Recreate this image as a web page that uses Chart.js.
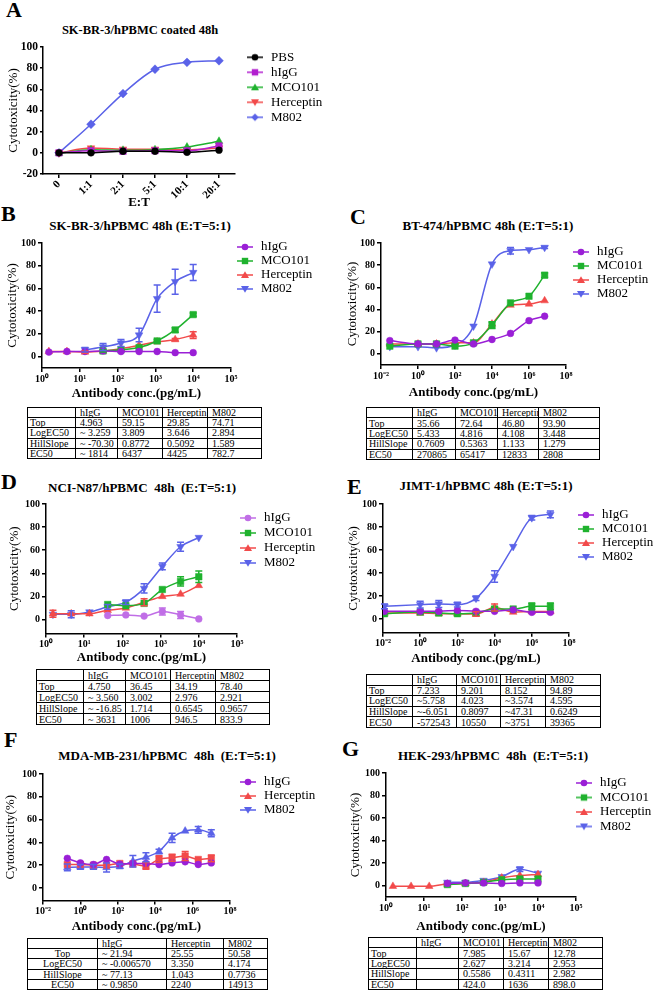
<!DOCTYPE html>
<html><head><meta charset="utf-8">
<script src="https://cdn.jsdelivr.net/npm/chart.js@4.4.1/dist/chart.umd.min.js"></script>
<style>
html,body{margin:0;padding:0;background:#fff;}
#wrap{position:relative;width:653px;height:992px;overflow:hidden;font-family:'Liberation Serif','Times New Roman',serif;color:#000;}
canvas{position:absolute;}
.letter{position:absolute;font-weight:bold;font-size:22px;line-height:22px;}
.ttl{position:absolute;font-weight:bold;font-size:13px;line-height:13px;white-space:pre;transform:translate(-50%,-50%);}
table.t{position:absolute;border-collapse:collapse;table-layout:fixed;font-size:10px;border:1.5px solid #000;}
table.t td{border:1px solid #000;padding:0 0 0 4px;line-height:9px;white-space:nowrap;overflow:hidden;}
</style></head><body><div id="wrap"></div>
<script>
// ---------------- DATA ----------------
// Panel A
const A_cats = ['0','1:1','2:1','5:1','10:1','20:1'];
const A_PBS = [0, 0, 1.5, 1.5, 0.5, 2.5];
const A_hIgG = [0, 2, 1.5, 2, 2, 6.5];
const A_MCO101 = [-0.5, 3, 2.5, 3, 5.5, 11];
const A_Herceptin = [0, 4.5, 3.5, 3.5, 3, 4.5];
const A_M802 = [0, 27, 56, 79, 85.5, 87];
const A_yTicks = [-20, 0, 20, 40, 60, 80, 100];
// common y ticks
const yTicks = [0, 20, 40, 60, 80, 100];
const xTicks_5dec = [1, 10, 100, 1000, 10000, 100000];
const xTicks_10dec = [0.01, 1, 100, 10000, 1000000, 100000000];

// Panel B
const concB = [1.52, 4.57, 13.7, 41.2, 123, 370, 1111, 3333, 10000];
const B_hIgG = [4, 4.5, 4.5, 5, 4.5, 4.5, 4.5, 3.5, 3.5];
const B_MCO101 = [null, null, null, 5, 6, 8, 13.8, 23.5, 37];
const B_MCO101_err = [0, 0, 0, 1, 0, 0, 1, 2, 1.5];
const B_Herceptin = [4.5, 4.5, 4, 5, 7, 10, 13, 15, 19];
const B_Herceptin_err = [0, 0, 1, 0, 0, 0, 0, 1, 3];
const B_M802 = [null, null, 6, 8.5, 12, 19, 51, 66, 74];
const B_M802_err = [0, 0, 2, 3, 3, 6, 12, 11, 7];

// Panel C
const concC = [0.03, 1, 10, 100, 1000, 10000, 100000, 1000000, 7000000];
const C_hIgG = [12, 9, 9, 12.5, 9, 13, 18.5, 30, 34];
const C_MC0101 = [7, 9, 9, 7, 10, 26, 46, 52, 71];
const C_MC0101_err = [0, 0, 0, 0, 0, 3, 0, 0, 2];
const C_Herceptin = [9, 9, 9, 10, 10, 27, 44, 45, 48];
const C_M802 = [6.5, 6.5, 5.5, 8, 25, 81, 93, 94, 96];
const C_M802_err = [0, 0, 0, 0, 0, 0, 3, 0, 1];

// Panel D
const concD = [1.52, 4.57, 13.7, 41.2, 123, 370, 1111, 3333, 10000];
const D_hIgG = [null, null, null, 3.5, 4, 3, 7, 4, 0.5];
const D_hIgG_err = [0, 0, 0, 0, 0, 0, 3, 3, 0];
const D_MCO101 = [null, null, null, 13, 12, 14, 26, 33, 37];
const D_MCO101_err = [0, 0, 0, 0, 0, 0, 0, 4, 5];
const D_Herceptin = [5, 5, 5, 8, 10, 15, 20, 22, 29.5];
const D_Herceptin_err = [3, 0, 0, 0, 0, 3, 0, 0, 0];
const D_M802 = [4.5, 4.5, 6.5, 11, 15, 27, 46, 63, 71];
const D_M802_err = [0, 3, 0, 2, 2, 4, 3, 4, 0];

// Panel E
const concE = [0.012, 1, 10, 100, 1000, 10000, 100000, 1000000, 10000000];
const E_hIgG = [6.7, 6.7, 6.7, 7.5, 6.7, 6.7, 8, 5.8, 5.8];
const E_MC0101 = [4.6, 6, 5.2, 4.6, 5.2, 8.7, 8.7, 11, 11];
const E_MC0101_err = [0, 0, 0, 0, 0, 2, 0, 3, 3];
const E_Herceptin = [5.2, 5.2, 4.6, 4.6, 4.3, 10, 6, 6.5, 6.5];
const E_Herceptin_err = [0, 0, 0, 0, 2, 3, 0, 0, 0];
const E_M802 = [11, 12.5, 13, 12.5, 18, 37, 63, 88, 91];
const E_M802_err = [2, 3, 3, 2, 2, 5, 0, 2, 3];

// Panel F
const concF = [0.2, 1, 5, 25, 128, 640, 3200, 16000, 80000, 400000, 2000000, 10000000];
const F_hIgG = [26, 22, 20.6, 25, 21, 21.5, 21.5, 20.6, 22, 23, 20.6, 22];
const F_Herceptin = [20.6, 20.6, 20, 20, 21.5, 21, 19.4, 25.3, 26.5, 28, 25, 26];
const F_Herceptin_err = [0, 0, 0, 0, 0, 0, 3, 3, 3, 4, 0, 3];
const F_M802 = [18, 18.5, 18.5, 18, 19, 23.5, 27, 32, 44, 50, 51, 48];
const F_M802_err = [3, 2, 2, 4, 2, 5, 4, 2, 4, 0, 3, 3];

// Panel G
const concG = [1.52, 4.57, 13.7, 41.2, 123, 370, 1111, 3333, 10000];
const G_hIgG = [null, null, null, 2, 2.5, 2.5, 2, 2.5, 2.5];
const G_MCO101 = [null, null, null, 1, 2, 3, 5.3, 6, 6];
const G_Herceptin = [-0.5, -0.5, -0.5, 1.5, 2, 3, 7, 9, 10];
const G_M802 = [null, null, null, 3, 3, 4.7, 8, 14.7, 11];
const G_M802_err = [0, 0, 0, 0, 0, 0, 0, 2, 0];

// Tables
const tblRowLabels = ['Top', 'LogEC50', 'HillSlope', 'EC50'];
const tblB_cols = ['hIgG', 'MCO101', 'Herceptin', 'M802'];
const tblB = [['4.963','59.15','29.85','74.71'],['~ 3.259','3.809','3.646','2.894'],['~ -70.30','0.8772','0.5092','1.589'],['~ 1814','6437','4425','782.7']];
const tblC_cols = ['hIgG', 'MCO101', 'Herceptin', 'M802'];
const tblC = [['35.66','72.64','46.80','93.90'],['5.433','4.816','4.108','3.448'],['0.7609','0.5363','1.133','1.279'],['270865','65417','12833','2808']];
const tblD_cols = ['hIgG', 'MCO101', 'Herceptin', 'M802'];
const tblD = [['4.750','36.45','34.19','78.40'],['~ 3.560','3.002','2.976','2.921'],['~ -16.85','1.714','0.6545','0.9657'],['~ 3631','1006','946.5','833.9']];
const tblE_cols = ['hIgG', 'MCO101', 'Herceptin', 'M802'];
const tblE = [['7.233','9.201','8.152','94.89'],['~5.758','4.023','~3.574','4.595'],['~-6.051','0.8097','~47.31','0.6249'],['-572543','10550','~3751','39365']];
const tblF_cols = ['hIgG', 'Herceptin', 'M802'];
const tblF = [['~ 21.94','25.55','50.58'],['~ -0.006570','3.350','4.174'],['~ 77.13','1.043','0.7736'],['~ 0.9850','2240','14913']];
const tblG_cols = ['hIgG', 'MCO101', 'Herceptin', 'M802'];
const tblG = [['','7.985','15.67','12.78'],['','2.627','3.214','2.953'],['','0.5586','0.4311','2.982'],['','424.0','1636','898.0']];

// ---------------- RENDER ----------------
const SERIF = 'Liberation Serif';
const C_P = '#9a1fd6', C_PL = '#c06ee6', C_G = '#1fb22e', C_R = '#f24a4a', C_B = '#5a62e8', C_BK = '#000000', C_M = '#b21fcf';
const wrap = document.getElementById('wrap');

function addDiv(cls, text, x, y) {
  const d = document.createElement('div'); d.className = cls; d.textContent = text;
  d.style.left = x + 'px'; d.style.top = y + 'px'; wrap.appendChild(d); return d;
}

function makeIcon(color, style, down) {
  const c = document.createElement('canvas'); c.width = 16; c.height = 10;
  const g = c.getContext('2d'); g.strokeStyle = color; g.fillStyle = color; g.lineWidth = 1.5;
  g.beginPath(); g.moveTo(0, 5); g.lineTo(16, 5); g.stroke();
  const x = 8, y = 5;
  g.beginPath();
  if (style === 'circle') { g.arc(x, y, 3.3, 0, Math.PI * 2); }
  else if (style === 'rect') { g.rect(x - 3.2, y - 3.2, 6.4, 6.4); }
  else if (style === 'rectRot') { g.moveTo(x, y - 3.8); g.lineTo(x + 3.8, y); g.lineTo(x, y + 3.8); g.lineTo(x - 3.8, y); g.closePath(); }
  else if (style === 'triangle') {
    if (down) { g.moveTo(x - 4, y - 3); g.lineTo(x + 4, y - 3); g.lineTo(x, y + 3.8); }
    else { g.moveTo(x - 4, y + 3); g.lineTo(x + 4, y + 3); g.lineTo(x, y - 3.8); }
    g.closePath();
  }
  g.fill();
  return c;
}

function pts(conc, vals, errs) {
  return conc.map((c, i) => vals[i] == null ? null : { x: c, y: vals[i], e: errs ? errs[i] : 0 }).filter(p => p);
}

function series(label, data, color, style, down, legendStyle, legendDown) {
  const r = style === 'circle' ? 3.4 : (style === 'rect' ? 4.6 : 4.4);
  return {
    label, data, borderColor: color, backgroundColor: color, borderWidth: 1.5,
    pointStyle: style, pointRotation: down ? 180 : 0, pointRadius: r, pointHoverRadius: r,
    pointBorderWidth: 0.5, cubicInterpolationMode: 'monotone', fill: false,
    legendIcon: makeIcon(color, legendStyle || style, legendStyle ? legendDown : down)
  };
}

const errorBars = {
  id: 'errorBars',
  afterDatasetsDraw(chart) {
    const ctx = chart.ctx, ys = chart.scales.y;
    chart.data.datasets.forEach((ds, i) => {
      const meta = chart.getDatasetMeta(i);
      ctx.save(); ctx.strokeStyle = ds.borderColor; ctx.lineWidth = 1.5;
      ds.data.forEach((p, j) => {
        if (!p || typeof p !== 'object' || !p.e) return;
        const x = meta.data[j].x;
        const y1 = ys.getPixelForValue(p.y + p.e), y2 = ys.getPixelForValue(p.y - p.e);
        ctx.beginPath();
        ctx.moveTo(x, y1); ctx.lineTo(x, y2);
        ctx.moveTo(x - 3.5, y1); ctx.lineTo(x + 3.5, y1);
        ctx.moveTo(x - 3.5, y2); ctx.lineTo(x + 3.5, y2);
        ctx.stroke();
      });
      ctx.restore();
    });
  }
};

const legendPlace = {
  id: 'legendPlace',
  afterLayout(chart, args, opts) {
    const lg = chart.legend; if (!lg || opts.x == null) return;
    const p = chart.options.plugins.legend.labels.padding;
    lg.left = opts.x - p; lg.top = opts.y - 6.5 - p;
    lg.right = lg.left + lg.width; lg.bottom = lg.top + lg.height;
  }
};

const supMap = {'0':'⁰','1':'¹','2':'²','3':'³','4':'⁴','5':'⁵','6':'⁶','7':'⁷','8':'⁸','9':'⁹','-':'⁻'};
function powLabel(v) { const e = Math.round(Math.log10(v)); return '10' + String(e).split('').map(c => supMap[c]).join(''); }

function axisCommon() {
  return {
    border: { display: true, color: '#000', width: 1.5 },
    grid: { drawOnChartArea: false, drawTicks: true, tickLength: 4, color: '#000', lineWidth: 1.5 }
  };
}

function panel(o) {
  const cv = document.createElement('canvas');
  cv.width = o.box.w; cv.height = o.box.h;
  cv.style.left = o.box.x + 'px'; cv.style.top = o.box.y + 'px';
  wrap.appendChild(cv);
  const pad = { left: o.area.l - o.box.x - o.yW, right: o.box.x + o.box.w - o.area.r,
                top: o.area.t - o.box.y, bottom: o.box.y + o.box.h - o.area.b - o.xH };
  const tickSize = o.tickSize || 10;
  let xs;
  if (o.logTicks) {
    const tv = o.logTicks;
    xs = Object.assign(axisCommon(), {
      type: 'logarithmic', min: tv[0], max: tv[tv.length - 1],
      afterBuildTicks: s => { s.ticks = tv.map(v => ({ value: v })); },
      ticks: { autoSkip: false, maxRotation: 0, minRotation: 0, padding: 1, color: '#000',
               font: { family: SERIF, weight: 'bold', size: tickSize }, callback: v => powLabel(v) },
      title: { display: true, text: 'Antibody conc.(pg/mL)', color: '#000', padding: 0,
               font: { family: SERIF, weight: 'bold', size: 13 } },
      afterFit: s => { s.height = o.xH; }
    });
  } else {
    xs = Object.assign(axisCommon(), {
      type: 'category', offset: true,
      ticks: { autoSkip: false, maxRotation: 45, minRotation: 45, padding: 0, color: '#000',
               font: { family: SERIF, weight: 'bold', size: 11 } },
      title: { display: true, text: 'E:T', color: '#000', padding: 0, font: { family: SERIF, weight: 'bold', size: 13 } },
      afterFit: s => { s.height = o.xH; }
    });
    xs.grid.offset = false;
  }
  const yt = o.yTicks;
  const ysc = Object.assign(axisCommon(), {
    type: 'linear', min: o.yMin, max: 100,
    afterBuildTicks: s => { s.ticks = yt.map(v => ({ value: v })); },
    ticks: { padding: 2, color: '#000', font: { family: SERIF, weight: 'bold', size: tickSize } },
    title: { display: true, text: 'Cytotoxicity(%)', color: '#000', padding: 0, font: { family: SERIF, size: 13 } },
    afterFit: s => { s.width = o.yW; }
  });
  ysc.grid.tickLength = o.yTickLen || 4;
  return new Chart(cv, {
    type: 'line',
    data: { labels: o.labels, datasets: o.datasets },
    options: {
      responsive: false, animation: false, devicePixelRatio: 1,
      font: { family: SERIF },
      layout: { padding: pad },
      elements: { line: { tension: o.logTicks ? 0.4 : 0 } },
      plugins: {
        tooltip: { enabled: false },
        legend: {
          position: 'chartArea', align: 'start',
          labels: {
            usePointStyle: true, pointStyleWidth: 19, boxHeight: 13, padding: o.leg.pad, color: '#000',
            font: { family: SERIF, size: 13 },
            generateLabels: ch => ch.data.datasets.map((d, i) => ({
              text: d.label, pointStyle: d.legendIcon, fillStyle: d.borderColor, strokeStyle: d.borderColor,
              lineWidth: 0, hidden: false, datasetIndex: i, fontColor: '#000'
            }))
          }
        },
        legendPlace: { x: o.leg.x - o.box.x, y: o.leg.y - o.box.y }
      },
      scales: { x: xs, y: ysc }
    },
    plugins: [errorBars, legendPlace]
  });
}

function table(o) {
  const t = document.createElement('table'); t.className = 't';
  t.style.left = o.x + 'px'; t.style.top = o.y + 'px'; t.style.width = o.w + 'px'; t.style.height = o.h + 'px';
  const cg = document.createElement('colgroup');
  o.cw.forEach(w => { const c = document.createElement('col'); c.style.width = w + 'px'; cg.appendChild(c); });
  t.appendChild(cg);
  const rows = [[''].concat(o.cols)].concat(o.rows.map((r, i) => [tblRowLabels[i]].concat(r)));
  rows.forEach(r => {
    const tr = document.createElement('tr');
    r.forEach((v, j) => {
      const td = document.createElement('td'); td.textContent = v;
      if (j === 0 && o.center) { td.style.textAlign = 'center'; td.style.paddingLeft = '0'; }
      else if (j === 0) td.style.paddingLeft = '2px';
      tr.appendChild(td);
    });
    t.appendChild(tr);
  });
  wrap.appendChild(t);
}

// Letters & titles
addDiv('letter', 'A', 6, -1);
addDiv('letter', 'B', 1, 203);
addDiv('letter', 'C', 350, 206);
addDiv('letter', 'D', 1, 471);
addDiv('letter', 'E', 347, 476);
addDiv('letter', 'F', 4, 729);
addDiv('letter', 'G', 342, 738);
const tA = addDiv('ttl', 'SK-BR-3/hPBMC coated 48h', 140, 29.5); tA.style.fontSize = '12.5px';
addDiv('ttl', 'SK-BR-3/hPBMC 48h (E:T=5:1)', 140, 225);
addDiv('ttl', 'BT-474/hPBMC 48h (E:T=5:1)', 488, 225);
addDiv('ttl', 'NCI-N87/hPBMC  48h  (E:T=5:1)', 142, 487);
addDiv('ttl', 'JIMT-1/hPBMC 48h (E:T=5:1)', 486, 485);
addDiv('ttl', 'MDA-MB-231/hPBMC  48h  (E:T=5:1)', 167, 755);
addDiv('ttl', 'HEK-293/hPBMC  48h  (E:T=5:1)', 493, 755);

// Panel A
panel({
  box: { x: 0, y: 30, w: 345, h: 180 }, area: { l: 43, r: 235, t: 47, b: 174 }, yW: 37, xH: 36,
  yMin: -20, yTicks: A_yTicks, tickSize: 11.5, yTickLen: 3, labels: A_cats,
  leg: { x: 245.5, y: 57.3, pad: 2 },
  datasets: [
    series('PBS', A_PBS, C_BK, 'circle'),
    series('hIgG', A_hIgG, C_M, 'rect'),
    series('MCO101', A_MCO101, C_G, 'triangle'),
    series('Herceptin', A_Herceptin, C_R, 'triangle', true),
    series('M802', A_M802, C_B, 'rectRot')
  ]
});

// Panel B
panel({
  box: { x: 0, y: 232, w: 325, h: 170 }, area: { l: 42, r: 231, t: 243, b: 368 }, yW: 37, xH: 33.5,
  yMin: -10, yTicks: yTicks, logTicks: xTicks_5dec,
  leg: { x: 235.5, y: 247, pad: 1 },
  datasets: [
    series('hIgG', pts(concB, B_hIgG), C_P, 'circle'),
    series('MCO101', pts(concB, B_MCO101, B_MCO101_err), C_G, 'rect'),
    series('Herceptin', pts(concB, B_Herceptin, B_Herceptin_err), C_R, 'triangle'),
    series('M802', pts(concB, B_M802, B_M802_err), C_B, 'triangle', true)
  ]
});

// Panel C
panel({
  box: { x: 326, y: 232, w: 327, h: 170 }, area: { l: 381, r: 566, t: 243, b: 365 }, yW: 36, xH: 35,
  yMin: -10, yTicks: yTicks, logTicks: xTicks_10dec,
  leg: { x: 571.5, y: 252, pad: 1 },
  datasets: [
    series('hIgG', pts(concC, C_hIgG), C_P, 'circle'),
    series('MC0101', pts(concC, C_MC0101, C_MC0101_err), C_G, 'rect'),
    series('Herceptin', pts(concC, C_Herceptin), C_R, 'triangle'),
    series('M802', pts(concC, C_M802, C_M802_err), C_B, 'triangle', true)
  ]
});

// Panel D
panel({
  box: { x: 0, y: 494, w: 325, h: 172 }, area: { l: 46, r: 237, t: 504, b: 633.4 }, yW: 39, xH: 32.2,
  yMin: -12, yTicks: yTicks, logTicks: xTicks_5dec,
  leg: { x: 238.5, y: 518, pad: 2 },
  datasets: [
    series('hIgG', pts(concD, D_hIgG, D_hIgG_err), C_PL, 'circle'),
    series('MCO101', pts(concD, D_MCO101, D_MCO101_err), C_G, 'rect'),
    series('Herceptin', pts(concD, D_Herceptin, D_Herceptin_err), C_R, 'triangle'),
    series('M802', pts(concD, D_M802, D_M802_err), C_B, 'triangle', true)
  ]
});

// Panel E
panel({
  box: { x: 326, y: 494, w: 327, h: 173 }, area: { l: 383, r: 569, t: 504, b: 632.8 }, yW: 37, xH: 33.3,
  yMin: -12, yTicks: yTicks, logTicks: xTicks_10dec,
  leg: { x: 576.5, y: 515, pad: 1 },
  datasets: [
    series('hIgG', pts(concE, E_hIgG), C_P, 'circle'),
    series('MC0101', pts(concE, E_MC0101, E_MC0101_err), C_G, 'rect'),
    series('Herceptin', pts(concE, E_Herceptin, E_Herceptin_err), C_R, 'triangle'),
    series('M802', pts(concE, E_M802, E_M802_err), C_B, 'triangle', true)
  ]
});

// Panel F
panel({
  box: { x: 0, y: 762, w: 325, h: 173 }, area: { l: 43, r: 230, t: 774, b: 900.5 }, yW: 40, xH: 33.6,
  yMin: -11, yTicks: yTicks, logTicks: xTicks_10dec,
  leg: { x: 238.5, y: 782, pad: 1 },
  datasets: [
    series('hIgG', pts(concF, F_hIgG), C_P, 'circle'),
    series('Herceptin', pts(concF, F_Herceptin, F_Herceptin_err), C_R, 'rect', false, 'triangle', false),
    series('M802', pts(concF, F_M802, F_M802_err), C_B, 'triangle', false, 'triangle', true)
  ]
});

// Panel G
panel({
  box: { x: 326, y: 762, w: 327, h: 172 }, area: { l: 386, r: 576, t: 773, b: 897 }, yW: 38, xH: 37,
  yMin: -10, yTicks: yTicks, logTicks: xTicks_5dec,
  leg: { x: 574.5, y: 783, pad: 1.5 },
  datasets: [
    series('hIgG', pts(concG, G_hIgG), C_P, 'circle'),
    series('MCO101', pts(concG, G_MCO101), C_G, 'rect'),
    series('Herceptin', pts(concG, G_Herceptin), C_R, 'triangle'),
    series('M802', pts(concG, G_M802, G_M802_err), C_B, 'triangle', true)
  ]
});

// Tables
table({ x: 27, y: 407, w: 234, h: 52, cw: [48, 42, 45, 45, 54], cols: tblB_cols, rows: tblB });
table({ x: 366, y: 407, w: 233, h: 53, cw: [46, 43, 42, 41, 61], cols: tblC_cols, rows: tblC });
table({ x: 36, y: 669, w: 233, h: 56, cw: [47, 42, 45, 45, 54], cols: tblD_cols, rows: tblD });
table({ x: 366, y: 674, w: 234, h: 54, cw: [46, 44, 44, 45, 55], cols: tblE_cols, rows: tblE });
table({ x: 27, y: 938, w: 240, h: 52, cw: [70, 69, 57, 44], cols: tblF_cols, rows: tblF, center: true });
table({ x: 368, y: 937, w: 234, h: 53, cw: [48, 42, 45, 45, 54], cols: tblG_cols, rows: tblG });
</script></body></html>
